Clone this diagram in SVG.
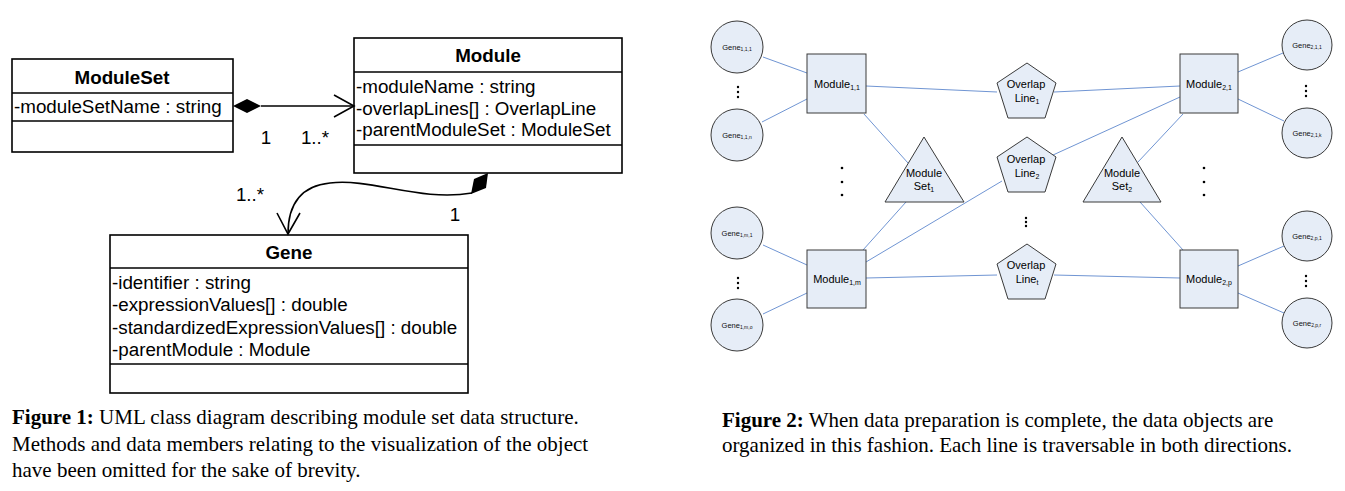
<svg xmlns="http://www.w3.org/2000/svg" width="1345" height="491" viewBox="0 0 1345 491">
<style>
.box{fill:#fff;stroke:#000;stroke-width:1.6}
.ln{stroke:#000;stroke-width:1.6;fill:none}
.t{font-family:"Liberation Sans",Arial,sans-serif;font-size:18.8px;fill:#000}
.tb{font-weight:bold;text-anchor:middle}
.mid{text-anchor:middle}
.cap{font-family:"Liberation Serif","Times New Roman",serif;font-size:21px;fill:#000}
.n{fill:#e6edf7;stroke:#3a3a3a;stroke-width:1}
.e{stroke:#7095d3;stroke-width:1;fill:none}
.g{font-family:"Liberation Sans",Arial,sans-serif;font-size:7.5px;text-anchor:middle;fill:#111}
.g tspan{font-size:5px}
.m{font-family:"Liberation Sans",Arial,sans-serif;font-size:11px;text-anchor:middle;fill:#000}
.m tspan.s{font-size:7px}
.d{fill:#000}
</style>

<!-- Figure 1: UML -->
<g id="ModuleSet">
<rect class="box" x="12" y="59" width="221" height="93"/>
<line class="ln" x1="12" y1="93" x2="233" y2="93"/>
<line class="ln" x1="12" y1="121" x2="233" y2="121"/>
<text class="t tb" x="122" y="83.5">ModuleSet</text>
<text class="t" x="14" y="113">-moduleSetName : string</text>
</g>
<g id="Module">
<rect class="box" x="354" y="38" width="268" height="135"/>
<line class="ln" x1="354" y1="72" x2="622" y2="72"/>
<line class="ln" x1="354" y1="145" x2="622" y2="145"/>
<text class="t tb" x="488" y="61.5">Module</text>
<text class="t" x="356" y="93">-moduleName : string</text>
<text class="t" x="356" y="114.5">-overlapLines[] : OverlapLine</text>
<text class="t" x="356" y="136">-parentModuleSet : ModuleSet</text>
</g>
<g id="Gene">
<rect class="box" x="110" y="235" width="358" height="158"/>
<line class="ln" x1="110" y1="268" x2="468" y2="268"/>
<line class="ln" x1="110" y1="364" x2="468" y2="364"/>
<text class="t tb" x="289" y="258.5">Gene</text>
<text class="t" x="112" y="288.5">-identifier : string</text>
<text class="t" x="112" y="311">-expressionValues[] : double</text>
<text class="t" x="112" y="333.5">-standardizedExpressionValues[] : double</text>
<text class="t" x="112" y="356">-parentModule : Module</text>
</g>
<g id="uml-connectors">
<polygon points="233,106 247,99 261,106 247,113" fill="#000"/>
<line class="ln" x1="261" y1="106" x2="354" y2="106" stroke-width="1.2"/>
<polyline class="ln" points="334,95 354,106 334,117" stroke-width="1.4"/>
<text class="t mid" x="266" y="144">1</text>
<text class="t mid" x="315" y="144">1..*</text>
<polygon points="488,173 486,188 471,194 474,179" fill="#000"/>
<path class="ln" stroke-width="1.2" d="M472,193 C420,202 372,178 330,183 C300,186 288,205 288,234"/>
<polyline class="ln" points="277,213 288,234 300,213" stroke-width="1.4"/>
<text class="t mid" x="250" y="201">1..*</text>
<text class="t mid" x="455" y="221">1</text>
</g>

<!-- Figure 2: object graph -->
<g id="edges">
<line class="e" x1="763" y1="57" x2="807" y2="73"/>
<line class="e" x1="762" y1="122" x2="807" y2="99"/>
<line class="e" x1="866" y1="86" x2="997" y2="92"/>
<line class="e" x1="864" y1="114" x2="908" y2="163"/>
<line class="e" x1="906" y1="202" x2="863" y2="250"/>
<line class="e" x1="763" y1="245" x2="807" y2="265"/>
<line class="e" x1="763" y1="314" x2="807" y2="293"/>
<line class="e" x1="866" y1="262" x2="1002" y2="181"/>
<line class="e" x1="866" y1="278" x2="997" y2="275"/>
<line class="e" x1="1180" y1="86" x2="1054" y2="92"/>
<line class="e" x1="1180" y1="97" x2="1053" y2="155"/>
<line class="e" x1="1183" y1="114" x2="1138" y2="162"/>
<line class="e" x1="1140" y1="202" x2="1183" y2="250"/>
<line class="e" x1="1054" y1="275" x2="1180" y2="278"/>
<line class="e" x1="1238" y1="72" x2="1283" y2="53"/>
<line class="e" x1="1238" y1="99" x2="1284" y2="121"/>
<line class="e" x1="1238" y1="266" x2="1284" y2="246"/>
<line class="e" x1="1238" y1="293" x2="1284" y2="313"/>
</g>

<g id="Gene111"><circle class="n" cx="737" cy="47" r="26"/><text class="g" x="737" y="49.5">Gene<tspan dy="1.5">1,1,1</tspan></text></g>
<g id="Gene11n"><circle class="n" cx="737" cy="135" r="26"/><text class="g" x="737" y="137.5">Gene<tspan dy="1.5">1,1,n</tspan></text></g>
<g id="Gene1m1"><circle class="n" cx="737" cy="233" r="26"/><text class="g" x="737" y="235.5">Gene<tspan dy="1.5">1,m,1</tspan></text></g>
<g id="Gene1mo"><circle class="n" cx="737" cy="325" r="26"/><text class="g" x="737" y="327.5">Gene<tspan dy="1.5">1,m,o</tspan></text></g>
<g id="Gene211"><circle class="n" cx="1307" cy="45" r="25"/><text class="g" x="1307" y="47.5">Gene<tspan dy="1.5">2,1,1</tspan></text></g>
<g id="Gene21k"><circle class="n" cx="1307" cy="133" r="25"/><text class="g" x="1307" y="135.5">Gene<tspan dy="1.5">2,1,k</tspan></text></g>
<g id="Gene2p1"><circle class="n" cx="1307" cy="236" r="25"/><text class="g" x="1307" y="238.5">Gene<tspan dy="1.5">2,p,1</tspan></text></g>
<g id="Gene2pr"><circle class="n" cx="1307" cy="323" r="25"/><text class="g" x="1307" y="325.5">Gene<tspan dy="1.5">2,p,r</tspan></text></g>

<g id="Module11"><rect class="n" x="807" y="54" width="59" height="59"/><text class="m" x="837" y="88">Module<tspan class="s" dy="2">1,1</tspan></text></g>
<g id="Module1m"><rect class="n" x="807" y="250" width="59" height="58"/><text class="m" x="837" y="283">Module<tspan class="s" dy="2">1,m</tspan></text></g>
<g id="Module21"><rect class="n" x="1180" y="54" width="58" height="59"/><text class="m" x="1209" y="88">Module<tspan class="s" dy="2">2,1</tspan></text></g>
<g id="Module2p"><rect class="n" x="1180" y="250" width="58" height="58"/><text class="m" x="1209" y="283">Module<tspan class="s" dy="2">2,p</tspan></text></g>

<g id="ModuleSet1"><polygon class="n" points="924,137 885,202 964,202"/><text class="m" x="924" y="177">Module</text><text class="m" x="924" y="190">Set<tspan class="s" dy="2">1</tspan></text></g>
<g id="ModuleSet2"><polygon class="n" points="1122,137 1083,202 1161,202"/><text class="m" x="1122" y="177">Module</text><text class="m" x="1122" y="190">Set<tspan class="s" dy="2">2</tspan></text></g>

<g id="OverlapLine1"><polygon class="n" points="1027,63 1056,83 1045,118 1008,118 997,83"/><text class="m" x="1026" y="88">Overlap</text><text class="m" x="1027" y="102">Line<tspan class="s" dy="2">1</tspan></text></g>
<g id="OverlapLine2"><polygon class="n" points="1027,137 1056,157 1045,192 1008,192 997,157"/><text class="m" x="1026" y="163">Overlap</text><text class="m" x="1027" y="177">Line<tspan class="s" dy="2">2</tspan></text></g>
<g id="OverlapLinet"><polygon class="n" points="1027,244 1056,264 1045,299 1008,299 997,264"/><text class="m" x="1026" y="269">Overlap</text><text class="m" x="1027" y="283">Line<tspan class="s" dy="2">t</tspan></text></g>

<g id="ellipses">
<circle class="d" cx="738" cy="87" r="1.2"/><circle class="d" cx="738" cy="92" r="1.2"/><circle class="d" cx="738" cy="97" r="1.2"/>
<circle class="d" cx="738" cy="278" r="1.2"/><circle class="d" cx="738" cy="283" r="1.2"/><circle class="d" cx="738" cy="288" r="1.2"/>
<circle class="d" cx="1306" cy="86" r="1.2"/><circle class="d" cx="1306" cy="91" r="1.2"/><circle class="d" cx="1306" cy="96" r="1.2"/>
<circle class="d" cx="1306" cy="276" r="1.2"/><circle class="d" cx="1306" cy="281" r="1.2"/><circle class="d" cx="1306" cy="286" r="1.2"/>
<circle class="d" cx="1026" cy="218" r="1.2"/><circle class="d" cx="1026" cy="222" r="1.2"/><circle class="d" cx="1026" cy="226" r="1.2"/>
<circle class="d" cx="842" cy="168" r="1.3"/><circle class="d" cx="842" cy="182" r="1.3"/><circle class="d" cx="842" cy="195" r="1.3"/>
<circle class="d" cx="1204" cy="168" r="1.3"/><circle class="d" cx="1204" cy="182" r="1.3"/><circle class="d" cx="1204" cy="195" r="1.3"/>
</g>

<g id="captions">
<text class="cap" x="12" y="424"><tspan font-weight="bold">Figure 1:</tspan> UML class diagram describing module set data structure.</text>
<text class="cap" x="12" y="451">Methods and data members relating to the visualization of the object</text>
<text class="cap" x="12" y="477">have been omitted for the sake of brevity.</text>
<text class="cap" x="722" y="427"><tspan font-weight="bold">Figure 2:</tspan> When data preparation is complete, the data objects are</text>
<text class="cap" x="722" y="452">organized in this fashion. Each line is traversable in both directions.</text>
</g>
</svg>
